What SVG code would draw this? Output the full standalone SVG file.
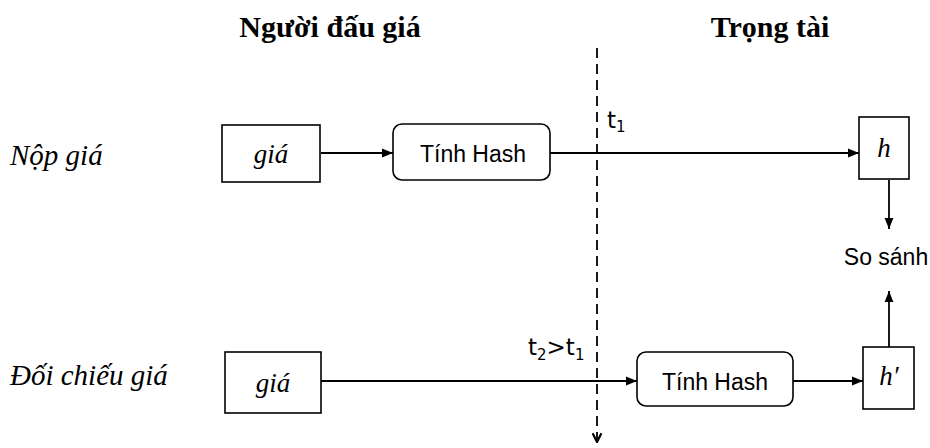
<svg xmlns="http://www.w3.org/2000/svg" width="930" height="448" viewBox="0 0 930 448">
<defs>
<marker id="ah" viewBox="0 0 10 10" refX="10" refY="5" markerWidth="12" markerHeight="11" markerUnits="userSpaceOnUse" orient="auto"><path d="M0,1 L10,5 L0,9 z" fill="#000"/></marker>
<marker id="vh" viewBox="0 0 10 10" refX="9" refY="5" markerWidth="11" markerHeight="11" markerUnits="userSpaceOnUse" orient="auto"><path d="M1,1 L9,5 L1,9" fill="none" stroke="#000" stroke-width="2"/></marker>
</defs>
<style>
.hd{font-family:"Liberation Serif",serif;font-weight:bold;font-size:30px;text-anchor:middle}
.lb{font-family:"Liberation Serif",serif;font-style:italic;font-size:29px}
.it{font-family:"Liberation Serif",serif;font-style:italic;font-size:27px;text-anchor:middle}
.sn{font-family:"Liberation Sans",Arial,sans-serif;font-size:23px}
.tl{font-family:"DejaVu Sans",sans-serif;font-size:23px}
.sub{font-size:15px}
.bx{fill:#fff;stroke:#000;stroke-width:1.6}
.ln{fill:none;stroke:#000;stroke-width:1.8}
</style>
<g id="headers">
<text class="hd" x="330" y="37">Người đấu giá</text>
<text class="hd" x="770" y="37">Trọng tài</text>
</g>
<g id="rowlabels">
<text class="lb" x="10" y="165">Nộp giá</text>
<text class="lb" x="10" y="385">Đối chiếu giá</text>
</g>
<g id="connectors">
<line class="ln" x1="597" y1="48" x2="597" y2="442" stroke-dasharray="10,6" marker-end="url(#vh)"/>
<line class="ln" x1="321" y1="153" x2="393" y2="153" marker-end="url(#ah)"/>
<line class="ln" x1="550" y1="153" x2="859" y2="153" marker-end="url(#ah)"/>
<line class="ln" x1="889" y1="180" x2="889" y2="229" marker-end="url(#ah)"/>
<line class="ln" x1="321" y1="381" x2="637" y2="381" marker-end="url(#ah)"/>
<line class="ln" x1="793" y1="381" x2="863" y2="381" marker-end="url(#ah)"/>
<line class="ln" x1="889" y1="347" x2="889" y2="291" marker-end="url(#ah)"/>
<text class="tl" x="607" y="128">t<tspan class="sub" dy="4">1</tspan></text>
<text class="tl" x="528" y="355">t<tspan class="sub" dy="5">2</tspan><tspan dy="-5">&gt;t</tspan><tspan class="sub" dy="5">1</tspan></text>
</g>
<g id="gia1"><rect class="bx" x="222" y="125" width="98" height="57"/><text class="it" x="271" y="163">giá</text></g>
<g id="hash1"><rect class="bx" x="393" y="124" width="157" height="56" rx="9"/><text class="sn" x="473" y="162" text-anchor="middle">Tính Hash</text></g>
<g id="h"><rect class="bx" x="859" y="117" width="50" height="62"/><text class="it" x="884" y="157">h</text></g>
<g id="sosanh"><text class="sn" x="886" y="265" text-anchor="middle">So sánh</text></g>
<g id="gia2"><rect class="bx" x="225" y="352" width="96" height="61"/><text class="it" x="273" y="392">giá</text></g>
<g id="hash2"><rect class="bx" x="637" y="352" width="156" height="54" rx="9"/><text class="sn" x="715" y="390" text-anchor="middle">Tính Hash</text></g>
<g id="hprime"><rect class="bx" x="863" y="347" width="51" height="62"/><text class="it" x="889" y="385">h′</text></g>
</svg>
